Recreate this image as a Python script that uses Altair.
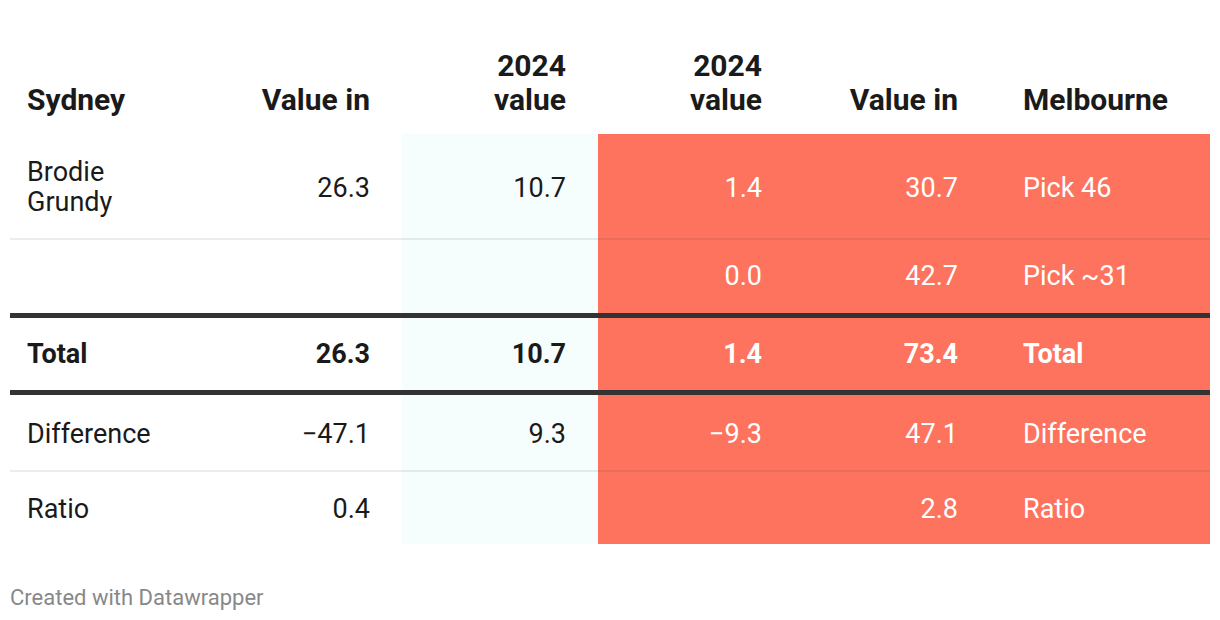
import altair as alt
import pandas as pd

# ---------------- data ----------------
header = ["Sydney", "Value in", "2024\nvalue", "2024\nvalue", "Value in", "Melbourne"]
row_brodie = ["Brodie\nGrundy", "26.3", "10.7", "1.4", "30.7", "Pick 46"]
row_pick = ["", "", "", "0.0", "42.7", "Pick ~31"]
row_total = ["Total", "26.3", "10.7", "1.4", "73.4", "Total"]
row_diff = ["Difference", "\u221247.1", "9.3", "\u22129.3", "47.1", "Difference"]
row_ratio = ["Ratio", "0.4", "", "", "2.8", "Ratio"]
footer_text = "Created with Datawrapper"

# ---------------- layout (page pixel units) ----------------
col_anchor = [27, 370, 566, 762, 958, 1023]
col_align = ["left", "right", "right", "right", "right", "left"]
col_dark = [True, True, True, False, False, False]
body_rows = [row_brodie, row_pick, row_total, row_diff, row_ratio]
row_mid = [189, 277, 355, 435, 510]
row_bold = [False, False, True, False, False]
header_y = 116
HEAD_FS, HEAD_LH = 30, 34
BODY_FS, BODY_LH = 27, 30
table_left, table_right = 10, 1210
body_top, body_bottom = 134, 544
cyan_x = (402, 598)
salmon_x = (598, 1210)
thin_lines = [239, 471]
thick_lines = [315.5, 392.5]
DARK, LIGHT = "#1a1a1a", "#ffffff"

W, H = 1204, 602
xs = alt.Scale(domain=[8, 8 + W], range=[0, W], nice=False, zero=False)
ys = alt.Scale(domain=[8, 8 + H], reverse=True, nice=False, zero=False)


def X(f="x"):
    return alt.X(f"{f}:Q", scale=xs, axis=None)


def Y(f="y"):
    return alt.Y(f"{f}:Q", scale=ys, axis=None)


# backgrounds
bg = pd.DataFrame({
    "x": [cyan_x[0], salmon_x[0]],
    "x2": [cyan_x[1], salmon_x[1]],
    "y": [body_top, body_top],
    "y2": [body_bottom, body_bottom],
    "c": ["#f6fdfd", "#fe735e"],
})
bg_layer = alt.Chart(bg).mark_rect().encode(
    x=X(), x2="x2:Q", y=Y(), y2="y2:Q", color=alt.Color("c:N", scale=None)
)

thin = pd.DataFrame({"y": thin_lines, "x": table_left, "x2": table_right})
thin_layer = alt.Chart(thin).mark_rule(color="#1a3a3a", opacity=0.09, strokeWidth=2).encode(
    x=X(), x2="x2:Q", y=Y()
)
thick = pd.DataFrame({"y": thick_lines, "x": table_left, "x2": table_right})
thick_layer = alt.Chart(thick).mark_rule(color="#333333", strokeWidth=5).encode(
    x=X(), x2="x2:Q", y=Y()
)

# text cells (multi-line cells: first line placed so the block sits where the reference has it)
recs = []
for j, t in enumerate(header):
    lines = t.split("\n")
    recs.append(dict(text=lines, x=col_anchor[j], y=header_y - (len(lines) - 1) * HEAD_LH,
                     align=col_align[j], kind="header", dark=True))
for i, row in enumerate(body_rows):
    for j, t in enumerate(row):
        if t == "":
            continue
        lines = t.split("\n")
        recs.append(dict(text=lines, x=col_anchor[j],
                         y=row_mid[i] - (len(lines) - 1) * BODY_LH / 2 - (len(lines) - 1),
                         align=col_align[j], kind="bold" if row_bold[i] else "body",
                         dark=col_dark[j]))
cells = pd.DataFrame(recs)


def text_layer(d, align, dark, **kw):
    return alt.Chart(d[["text", "x", "y"]]).mark_text(
        align=align, font="Roboto", color=DARK if dark else LIGHT, **kw
    ).encode(x=X(), y=Y(), text="text:N")


specs = [
    ("header", dict(fontSize=HEAD_FS, fontWeight="bold", baseline="bottom", lineHeight=HEAD_LH)),
    ("body", dict(fontSize=BODY_FS, baseline="middle", lineHeight=BODY_LH)),
    ("bold", dict(fontSize=BODY_FS, fontWeight="bold", baseline="middle")),
]

layers = [bg_layer, thin_layer, thick_layer]
for align in ["left", "right"]:
    for dark in [True, False]:
        for kind, kw in specs:
            sel = cells[(cells["kind"] == kind) & (cells["align"] == align) & (cells["dark"] == dark)]
            if len(sel):
                layers.append(text_layer(sel, align, dark, **kw))

foot = pd.DataFrame({"text": [footer_text], "x": [10], "y": [605]})
foot_layer = alt.Chart(foot).mark_text(align="left", baseline="alphabetic", font="Roboto",
                                       fontSize=22, color="#888888").encode(
    x=X(), y=Y(), text="text:N")
layers.append(foot_layer)

chart = alt.layer(*layers).properties(
    width=W, height=H, padding=0, autosize="none", background="#ffffff"
).configure_view(stroke=None)

chart.save("out.html", embed_options={"renderer": "svg", "actions": False})
